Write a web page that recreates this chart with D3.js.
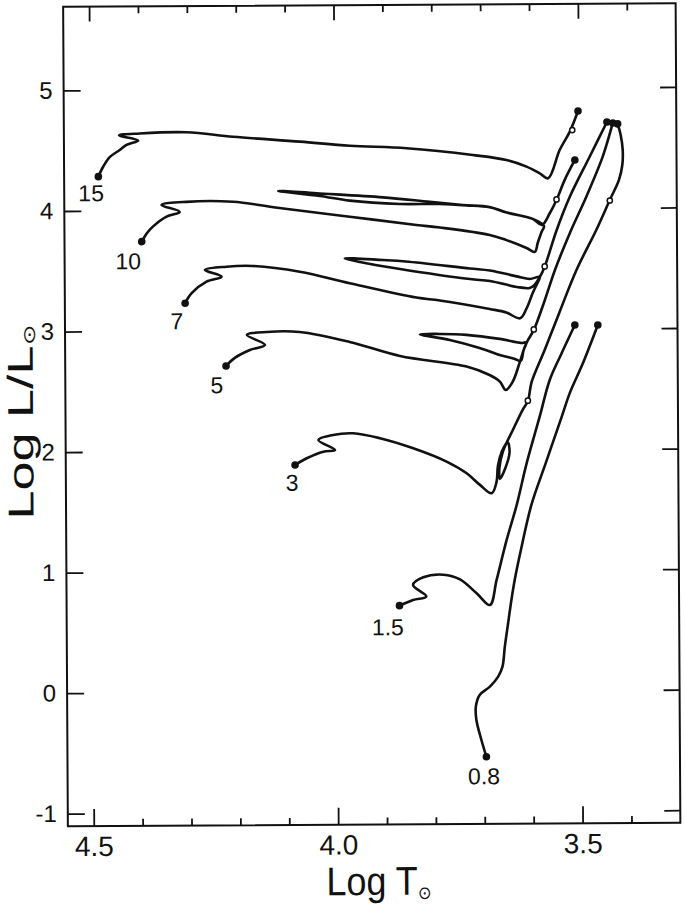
<!DOCTYPE html>
<html>
<head>
<meta charset="utf-8">
<script src="https://cdn.jsdelivr.net/npm/d3@7"></script>
<style>
body { margin: 0; background: #fff; }
text { font-family: "Liberation Sans", Arial, sans-serif; fill: #111; }
</style>
</head>
<body>
<div id="hr"></div>
<script>
// evolutionary tracks, points are [log Teff, log L/Lsun]
var track15 = [[4.483,4.283],[4.473,4.365],[4.459,4.446],[4.439,4.503],[4.425,4.545],[4.401,4.581],[4.440,4.624],[4.398,4.639],[4.302,4.647],[4.207,4.608],[4.070,4.564],[3.968,4.528],[3.852,4.504],[3.717,4.445],[3.648,4.402],[3.607,4.346],[3.580,4.290],[3.563,4.248],[3.539,4.482],[3.518,4.634],[3.501,4.805]];
var track10 = [[4.395,3.742],[4.384,3.814],[4.372,3.866],[4.344,3.948],[4.317,3.987],[4.354,4.045],[4.303,4.070],[4.208,4.068],[4.105,4.010],[3.969,3.939],[3.833,3.867],[3.785,3.845],[3.683,3.781],[3.649,3.737],[3.608,3.671],[3.591,3.638],[3.585,3.712],[3.577,3.803],[3.572,3.853],[3.595,3.912],[3.648,3.966],[3.683,4.010],[3.730,4.027],[3.785,4.040],[3.867,4.042],[3.969,4.072],[4.030,4.112],[4.115,4.156],[4.037,4.135],[3.901,4.098],[3.805,4.058],[3.738,4.031],[3.683,4.013],[3.648,3.966],[3.595,3.912],[3.576,3.861],[3.560,3.958],[3.546,4.068],[3.529,4.234],[3.508,4.399]];
var track7 = [[4.307,3.229],[4.294,3.311],[4.263,3.407],[4.232,3.448],[4.266,3.504],[4.222,3.530],[4.168,3.535],[4.072,3.485],[3.970,3.387],[3.834,3.265],[3.786,3.240],[3.684,3.167],[3.650,3.137],[3.622,3.088],[3.609,3.165],[3.596,3.295],[3.587,3.372],[3.581,3.430],[3.602,3.414],[3.628,3.436],[3.683,3.486],[3.724,3.504],[3.855,3.565],[3.902,3.578],[3.980,3.593],[3.949,3.563],[3.867,3.503],[3.724,3.416],[3.683,3.399],[3.628,3.348],[3.602,3.339],[3.592,3.364],[3.581,3.430],[3.571,3.515],[3.546,3.819],[3.519,4.092],[3.478,4.423],[3.442,4.712]];
var track5 = [[4.224,2.706],[4.206,2.773],[4.175,2.838],[4.144,2.879],[4.181,2.963],[4.140,2.987],[4.073,2.985],[3.971,2.900],[3.868,2.781],[3.732,2.690],[3.685,2.619],[3.664,2.564],[3.652,2.494],[3.638,2.560],[3.623,2.725],[3.615,2.825],[3.609,2.891],[3.617,2.883],[3.664,2.918],[3.732,2.953],[3.786,2.962],[3.827,2.960],[3.766,2.912],[3.705,2.844],[3.664,2.785],[3.633,2.751],[3.621,2.734],[3.615,2.825],[3.607,2.900],[3.594,2.991],[3.571,3.239],[3.550,3.487],[3.519,3.794],[3.485,4.094],[3.451,4.425],[3.430,4.704]];
var track3 = [[4.084,1.882],[4.060,1.937],[4.026,1.991],[4.002,2.005],[4.036,2.088],[4.006,2.129],[3.965,2.142],[3.910,2.100],[3.842,2.015],[3.774,1.903],[3.733,1.805],[3.706,1.708],[3.682,1.638],[3.672,1.732],[3.669,1.864],[3.661,1.981],[3.649,2.063],[3.645,1.980],[3.653,1.855],[3.665,1.757],[3.666,1.848],[3.659,1.980],[3.638,2.162],[3.618,2.327],[3.607,2.402],[3.599,2.560],[3.572,2.824],[3.541,3.139],[3.506,3.486],[3.465,3.817],[3.437,4.065],[3.418,4.231],[3.411,4.355],[3.410,4.480],[3.414,4.604],[3.420,4.696]];
var track1_5 = [[3.872,0.710],[3.844,0.757],[3.817,0.785],[3.844,0.881],[3.823,0.944],[3.782,0.965],[3.748,0.926],[3.714,0.809],[3.687,0.711],[3.673,0.919],[3.652,1.250],[3.631,1.540],[3.610,1.888],[3.583,2.271],[3.562,2.575],[3.539,2.782],[3.510,3.030]];
var track0_8 = [[3.696,-0.547],[3.706,-0.408],[3.716,-0.242],[3.717,-0.131],[3.709,-0.034],[3.688,0.034],[3.671,0.117],[3.662,0.199],[3.657,0.365],[3.650,0.559],[3.643,0.752],[3.636,0.918],[3.623,1.166],[3.601,1.539],[3.571,1.887],[3.538,2.268],[3.521,2.467],[3.494,2.712],[3.463,3.029]];

var masses = ["15", "10", "7", "5", "3", "1.5", "0.8"];
var labelT = [4.498, 4.423, 4.324, 4.243, 4.090, 3.896, 3.701];
var labelL = [4.148, 3.582, 3.082, 2.550, 1.738, 0.534, -0.706];

// small open circles along the giant branches
var markerT = [3.513, 3.546, 3.571, 3.594, 3.607, 3.437];
var markerL = [4.647, 4.072, 3.517, 2.995, 2.404, 4.061];

var majorT = [4.5, 4.0, 3.5];
var minorT = [4.4, 4.3, 4.2, 4.1, 3.9, 3.8, 3.7, 3.6, 3.4];
var lumTicks = [-1, 0, 1, 2, 3, 4, 5];

var tracks = [track15, track10, track7, track5, track3, track1_5, track0_8];

var width = 685, height = 907;
var ink = "#111";

var svg = d3.select("#hr").append("svg")
  .attr("width", width)
  .attr("height", height);

// the scanned figure sits a little turned, so the drawing is too
var chart = svg.append("g")
  .attr("transform", "rotate(-0.33, 372, 415)");

var x = d3.scaleLinear().domain([4.553, 3.30]).range([65.5, 678]);
var y = d3.scaleLinear().domain([-1.104, 5.694]).range([824.5, 5]);

var plotLeft = x.range()[0], plotRight = x.range()[1];
var plotTop = y.range()[1], plotBottom = y.range()[0];

function plain(size) {
  return function(g) {
    g.select(".domain").remove();
    g.attr("color", ink).attr("font-size", size).attr("font-family", null);
    g.selectAll("line").attr("stroke-width", 1.8);
  };
}

// bottom
chart.append("g")
  .attr("transform", "translate(0," + plotBottom + ")")
  .call(d3.axisBottom(x).tickValues(minorT).tickSize(-7).tickFormat(""))
  .call(plain(28));
chart.append("g")
  .attr("transform", "translate(0," + plotBottom + ")")
  .call(d3.axisBottom(x).tickValues(majorT).tickSize(-17).tickPadding(10).tickFormat(d => d.toFixed(1)))
  .call(plain(28));

// top
chart.append("g")
  .attr("transform", "translate(0," + plotTop + ")")
  .call(d3.axisTop(x).tickValues(minorT).tickSize(-7).tickFormat(""))
  .call(plain(28));
chart.append("g")
  .attr("transform", "translate(0," + plotTop + ")")
  .call(d3.axisTop(x).tickValues(majorT).tickSize(-15).tickFormat(""))
  .call(plain(28));

// left and right
chart.append("g")
  .attr("transform", "translate(" + plotLeft + ",0)")
  .call(d3.axisLeft(y).tickValues(lumTicks).tickSize(-17).tickPadding(11).tickFormat(d => String(d)))
  .call(plain(24));
chart.append("g")
  .attr("transform", "translate(" + plotRight + ",0)")
  .call(d3.axisRight(y).tickValues(lumTicks).tickSize(-16).tickFormat(""))
  .call(plain(24));

chart.append("rect")
  .attr("x", plotLeft)
  .attr("y", plotTop)
  .attr("width", plotRight - plotLeft)
  .attr("height", plotBottom - plotTop)
  .attr("fill", "none")
  .attr("stroke", ink)
  .attr("stroke-width", 2);

var line = d3.line()
  .x(d => x(d[0]))
  .y(d => y(d[1]))
  .curve(d3.curveCatmullRom.alpha(0.5));

chart.selectAll(".track")
  .data(tracks)
  .enter().append("path")
  .attr("class", "track")
  .attr("d", line)
  .attr("fill", "none")
  .attr("stroke", ink)
  .attr("stroke-width", 2.6)
  .attr("stroke-linejoin", "round")
  .attr("stroke-linecap", "round");

// start and end of every track get a dot
var ends = [];
tracks.forEach(function(t) {
  ends.push(t[0], t[t.length - 1]);
});

chart.selectAll(".end")
  .data(ends)
  .enter().append("circle")
  .attr("cx", d => x(d[0]))
  .attr("cy", d => y(d[1]))
  .attr("r", 3.8)
  .attr("fill", ink);

chart.selectAll(".marker")
  .data(markerT)
  .enter().append("circle")
  .attr("cx", d => x(d))
  .attr("cy", (d, i) => y(markerL[i]))
  .attr("r", 2.6)
  .attr("fill", "#fff")
  .attr("stroke", ink)
  .attr("stroke-width", 1.5);

chart.selectAll(".mass")
  .data(masses)
  .enter().append("text")
  .attr("x", (d, i) => x(labelT[i]))
  .attr("y", (d, i) => y(labelL[i]))
  .attr("dy", "0.36em")
  .attr("text-anchor", "middle")
  .attr("font-size", 23)
  .text(d => d);

// axis titles; the scan is drawn a bit tall, so the upright title is stretched
var xTitle = chart.append("text")
  .attr("transform", "translate(376,895) scale(0.9,1)")
  .attr("text-anchor", "middle")
  .attr("font-size", 40);
xTitle.append("tspan").text("Log T");
xTitle.append("tspan").attr("font-size", 18).attr("dy", 4).text("\u2299");

var yTitle = chart.append("text")
  .attr("transform", "translate(33,420) scale(1,1.45) rotate(-90)")
  .attr("text-anchor", "middle")
  .attr("font-size", 36);
yTitle.append("tspan").text("Log L/L");
yTitle.append("tspan").attr("font-size", 17).attr("dy", 2).text("\u2299");
</script>
</body>
</html>
